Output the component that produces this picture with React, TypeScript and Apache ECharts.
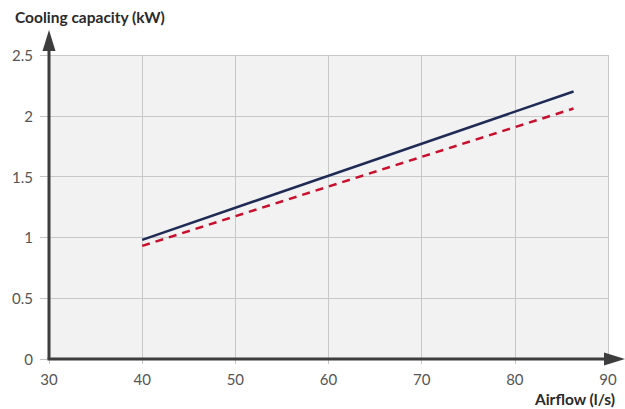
import React, { useEffect, useRef } from "react";
import * as echarts from "echarts";

const airflow = [40, 86.3];
const solidCapacity = [0.98, 2.2];
const dashedCapacity = [0.93, 2.06];
const xTicks = [30, 40, 50, 60, 70, 80, 90];
const yTicks = [0, 0.5, 1, 1.5, 2, 2.5];
const yTitle = "Cooling capacity (kW)";
const xTitle = "Airflow (l/s)";

const FONT = "Lato, 'Noto Sans', sans-serif";

export default function App() {
  const ref = useRef<HTMLDivElement>(null);
  useEffect(() => {
    if (!ref.current) return;
    const chart = echarts.init(ref.current, null, { renderer: "svg" });
    const xMin = xTicks[0];
    const xMax = xTicks[xTicks.length - 1];
    const yMin = yTicks[0];
    const yMax = yTicks[yTicks.length - 1];
    chart.setOption({
      animation: false,
      grid: {
        left: 49,
        right: 17,
        top: 55,
        bottom: 50,
        show: true,
        backgroundColor: "#f2f2f2",
        borderWidth: 0,
      },
      xAxis: {
        type: "value",
        min: xMin,
        max: xMax,
        interval: 10,
        axisLine: { show: false },
        axisTick: { show: true, length: 5, lineStyle: { color: "#c4c4c4" } },
        axisLabel: { color: "#555", fontSize: 15, fontFamily: FONT, margin: 12 },
        splitLine: { show: true, lineStyle: { color: "#c8c8c8", width: 1 } },
      },
      yAxis: {
        type: "value",
        min: yMin,
        max: yMax,
        interval: 0.5,
        axisLine: { show: false },
        axisTick: { show: true, length: 9, lineStyle: { color: "#c4c4c4" } },
        axisLabel: { color: "#555", fontSize: 15, fontFamily: FONT, margin: 16 },
        splitLine: { show: true, lineStyle: { color: "#c8c8c8", width: 1 } },
      },
      series: [
        {
          type: "line",
          data: airflow.map((x, i) => [x, solidCapacity[i]]),
          showSymbol: false,
          lineStyle: { color: "#1f2a55", width: 2.5 },
          z: 3,
        },
        {
          type: "line",
          data: airflow.map((x, i) => [x, dashedCapacity[i]]),
          showSymbol: false,
          lineStyle: { color: "#c8102e", width: 2.5, type: [8, 6] },
          z: 3,
        },
      ],
    });
    const o = chart.convertToPixel({ gridIndex: 0 }, [xMin, yMin]) as number[];
    const xe = chart.convertToPixel({ gridIndex: 0 }, [xMax, yMin]) as number[];
    const ye = chart.convertToPixel({ gridIndex: 0 }, [xMin, yMax]) as number[];
    const axisColor = "#3d3d3d";
    const yTip = ye[1] - 25;
    const xTip = xe[0] + 17;
    chart.setOption({
      graphic: [
        {
          type: "line",
          shape: { x1: o[0], y1: o[1], x2: o[0], y2: yTip + 10 },
          style: { stroke: axisColor, lineWidth: 3 },
          z: 10,
        },
        {
          type: "polygon",
          shape: { points: [[o[0], yTip], [o[0] - 6.5, yTip + 21], [o[0] + 6.5, yTip + 21]] },
          style: { fill: axisColor },
          z: 10,
        },
        {
          type: "line",
          shape: { x1: o[0] - 1.5, y1: o[1], x2: xTip - 10, y2: o[1] },
          style: { stroke: axisColor, lineWidth: 3 },
          z: 10,
        },
        {
          type: "polygon",
          shape: { points: [[xTip, o[1]], [xTip - 21, o[1] - 6.5], [xTip - 21, o[1] + 6.5]] },
          style: { fill: axisColor },
          z: 10,
        },
        {
          type: "text",
          x: 15,
          y: 17,
          style: {
            text: yTitle,
            fill: "#2a2a2a",
            font: `bold 15.5px ${FONT}`,
            align: "left",
            verticalAlign: "middle",
          },
          z: 10,
        },
        {
          type: "text",
          x: 615,
          y: 399,
          style: {
            text: xTitle,
            fill: "#2a2a2a",
            font: `bold 15.5px ${FONT}`,
            align: "right",
            verticalAlign: "middle",
          },
          z: 10,
        },
      ],
    });
    return () => chart.dispose();
  }, []);
  return (
    <div
      ref={ref}
      style={{ position: "absolute", left: 0, top: 0, width: 625, height: 409 }}
    />
  );
}
